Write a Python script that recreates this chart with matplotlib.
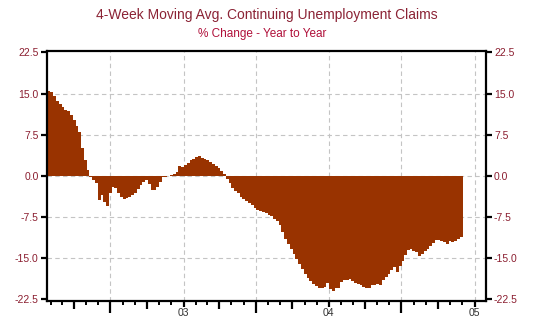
import datetime as dt
import matplotlib
matplotlib.use('Agg')
import matplotlib.pyplot as plt
import matplotlib.dates as mdates
from matplotlib.ticker import FixedLocator

# weekly % change, year to year, 4-week moving avg. of continuing claims
start_week = dt.date(2002, 1, 24)
pct_change = [
    15.5, 15.2, 14.6, 13.7, 13.1, 12.6, 12.0, 11.8, 11.0, 10.1,
    9.0, 8.0, 5.0, 2.8, 1.1, -0.2, -0.8, -1.4, -4.4, -3.5,
    -4.7, -5.6, -3.2, -2.0, -2.3, -3.2, -3.8, -4.3, -4.1, -3.9,
    -3.5, -3.1, -2.5, -1.7, -1.1, -0.8, -1.5, -2.6, -2.6, -2.0,
    -1.1, -0.3, -0.2, 0.0, 0.2, 0.4, 0.7, 1.7,
    1.6, 2.0, 2.4, 2.8, 3.1, 3.5, 3.6, 3.3, 3.1, 2.8,
    2.5, 2.2, 1.8, 1.4, 0.9, 0.3, -0.5, -1.4, -2.2, -2.7,
    -3.2, -3.8, -4.2, -4.6, -5.0, -5.4, -5.9, -6.2, -6.4, -6.6,
    -6.7, -7.1, -7.4, -7.8, -8.3,
    -9.0, -10.3, -11.5, -12.5, -13.4, -14.3, -15.2, -16.1, -17.0, -17.9,
    -18.7, -19.2, -19.7, -20.1, -20.5, -20.5, -20.2, -19.5, -20.6, -21.0,
    -20.5, -20.4, -19.4, -19.1, -19.0, -18.8, -19.2, -19.6, -19.8, -19.9,
    -20.2, -20.4,
    -20.4, -20.0, -19.9, -19.8, -19.9, -19.0, -18.5, -18.0, -17.2, -16.6,
    -17.5, -16.4, -15.5, -14.5, -13.6, -13.4, -13.8, -13.9, -14.7, -14.2,
    -13.8, -13.3, -12.8, -12.2, -11.7, -11.8, -11.9, -12.1, -12.5, -11.9,
    -12.0, -11.9, -11.5, -11.1,
]
y_ticks = [-22.5, -15.0, -7.5, 0.0, 7.5, 15.0, 22.5]

title = '4-Week Moving Avg. Continuing Unemployment Claims'
subtitle = '% Change - Year to Year'

bar_color = '#993300'
label_red = '#8b1e30'

weeks = [start_week + dt.timedelta(days=7 * i) for i in range(len(pct_change))]

plt.rcParams['font.family'] = ['Liberation Sans', 'DejaVu Sans']

fig = plt.figure(figsize=(5.48, 3.27), dpi=100)
ax = fig.add_axes([0.0858, 0.081, 0.8005, 0.763])

# slightly wider than a week so neighbouring bars leave no seams
ax.bar(weeks, pct_change, width=7.6, align='edge', color=bar_color,
       linewidth=0, antialiased=False, zorder=2)

ax.set_xlim(dt.date(2002, 1, 23), dt.date(2005, 1, 29))
ax.set_ylim(-22.75, 22.75)

# grid
for v in y_ticks[1:-1]:
    ax.axhline(v, color='#c4c4c4', lw=0.8, ls=(0, (4, 3)), zorder=1)
half_years = [dt.date(2002, 7, 1), dt.date(2003, 1, 1), dt.date(2003, 7, 1),
              dt.date(2004, 1, 1), dt.date(2004, 7, 1), dt.date(2005, 1, 1)]
for d in half_years:
    ax.axvline(d, color='#c4c4c4', lw=0.8, ls=(0, (4, 3)), zorder=1)

for s in ax.spines.values():
    s.set_linewidth(1.6)
    s.set_color('black')

# y axis: ticks on both sides
ax.set_yticks(y_ticks)
ax.yaxis.set_major_formatter(plt.FuncFormatter(lambda v, p: f'{v:.1f}'))
ax.tick_params(axis='y', which='major', left=True, right=True, labelleft=True,
               labelright=True, direction='out', length=4.5, width=1.6,
               labelsize=7.5, labelcolor=label_red, pad=1.5)

# x axis: quarterly major ticks (labels at January), monthly minor ticks
quarters = []
for yr in (2002, 2003, 2004, 2005):
    for m in (1, 4, 7, 10):
        d = dt.date(yr, m, 1)
        if dt.date(2002, 1, 23) < d < dt.date(2005, 1, 29):
            quarters.append(d)
ax.xaxis.set_major_locator(FixedLocator(mdates.date2num(quarters)))
ax.xaxis.set_major_formatter(plt.FuncFormatter(
    lambda v, p: mdates.num2date(v).strftime('%y') if mdates.num2date(v).month == 1 else ''))
ax.xaxis.set_minor_locator(mdates.MonthLocator())
ax.tick_params(axis='x', which='minor', direction='out', length=3, width=1.4)
ax.tick_params(axis='x', which='major', direction='out', length=5, width=1.6,
               labelsize=7.5, labelcolor='#333333', pad=0.5)
for tick, d in zip(ax.xaxis.get_major_ticks(len(quarters)), quarters):
    if d.month == 7:
        tick.tick1line.set_markersize(8.5)
    elif d.month in (4, 10):
        tick.tick1line.set_markersize(6)
    else:
        tick.tick1line.set_markersize(4)

fig.text(0.487, 1 - 14.7 / 327, title, ha='center', va='center',
         fontsize=10, color='#8b2335')
fig.text(0.479, 1 - 34 / 327, subtitle, ha='center', va='center',
         fontsize=8.5, color='#b0103a')

fig.savefig('out.png', dpi=100)
